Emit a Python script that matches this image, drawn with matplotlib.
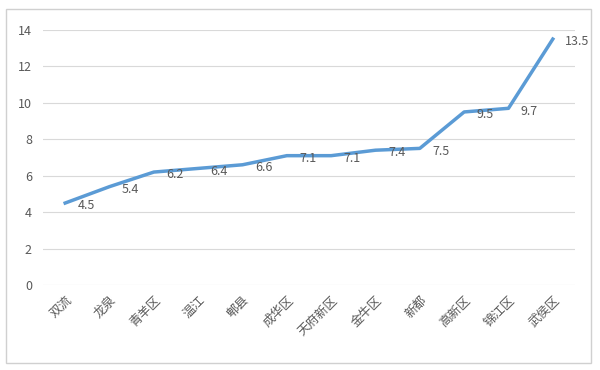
import matplotlib
matplotlib.use("Agg")
import matplotlib.pyplot as plt
from matplotlib.patches import Rectangle

plt.rcParams['font.family'] = ['Noto Sans CJK SC', 'DejaVu Sans']

districts = ["双流", "龙泉", "青羊区", "温江", "郫县", "成华区", "天府新区",
             "金牛区", "新都", "高新区", "锦江区", "武侯区"]
values = [4.5, 5.4, 6.2, 6.4, 6.6, 7.1, 7.1, 7.4, 7.5, 9.5, 9.7, 13.5]

BLUE = "#5B9BD5"
GREY = "#595959"

fig = plt.figure(figsize=(6, 3.7), dpi=100)
ax = fig.add_axes([0.0717, 0.2297, 0.8866, 0.6893])
fig.patches.append(Rectangle((0.01, 0.02), 0.975, 0.955, transform=fig.transFigure,
                             fill=False, ec="#D0D0D0", lw=1))

xs = list(range(len(values)))
ax.plot(xs, values, color=BLUE, lw=2.5, solid_joinstyle="round", zorder=3)
for x, v in zip(xs, values):
    ax.annotate(f"{v:.1f}", (x, v), xytext=(9, -2),
                textcoords="offset points", ha="left", va="center",
                fontsize=9, color=GREY)

ax.set_xlim(-0.5, len(values) - 0.5)
ax.set_ylim(0, 14)
ax.set_yticks(range(0, 15, 2))
ax.grid(axis="y", color="#D9D9D9", lw=0.8)
ax.set_axisbelow(True)
for s in ax.spines.values():
    s.set_visible(False)
ax.set_xticks(xs)
ax.set_xticklabels(districts, rotation=45, ha="right", rotation_mode="anchor",
                   fontsize=9, color=GREY)
ax.tick_params(axis="both", length=0, labelsize=9, labelcolor=GREY)
ax.tick_params(axis="y", pad=8)
ax.tick_params(axis="x", pad=6)

fig.savefig("out.png", dpi=100)
